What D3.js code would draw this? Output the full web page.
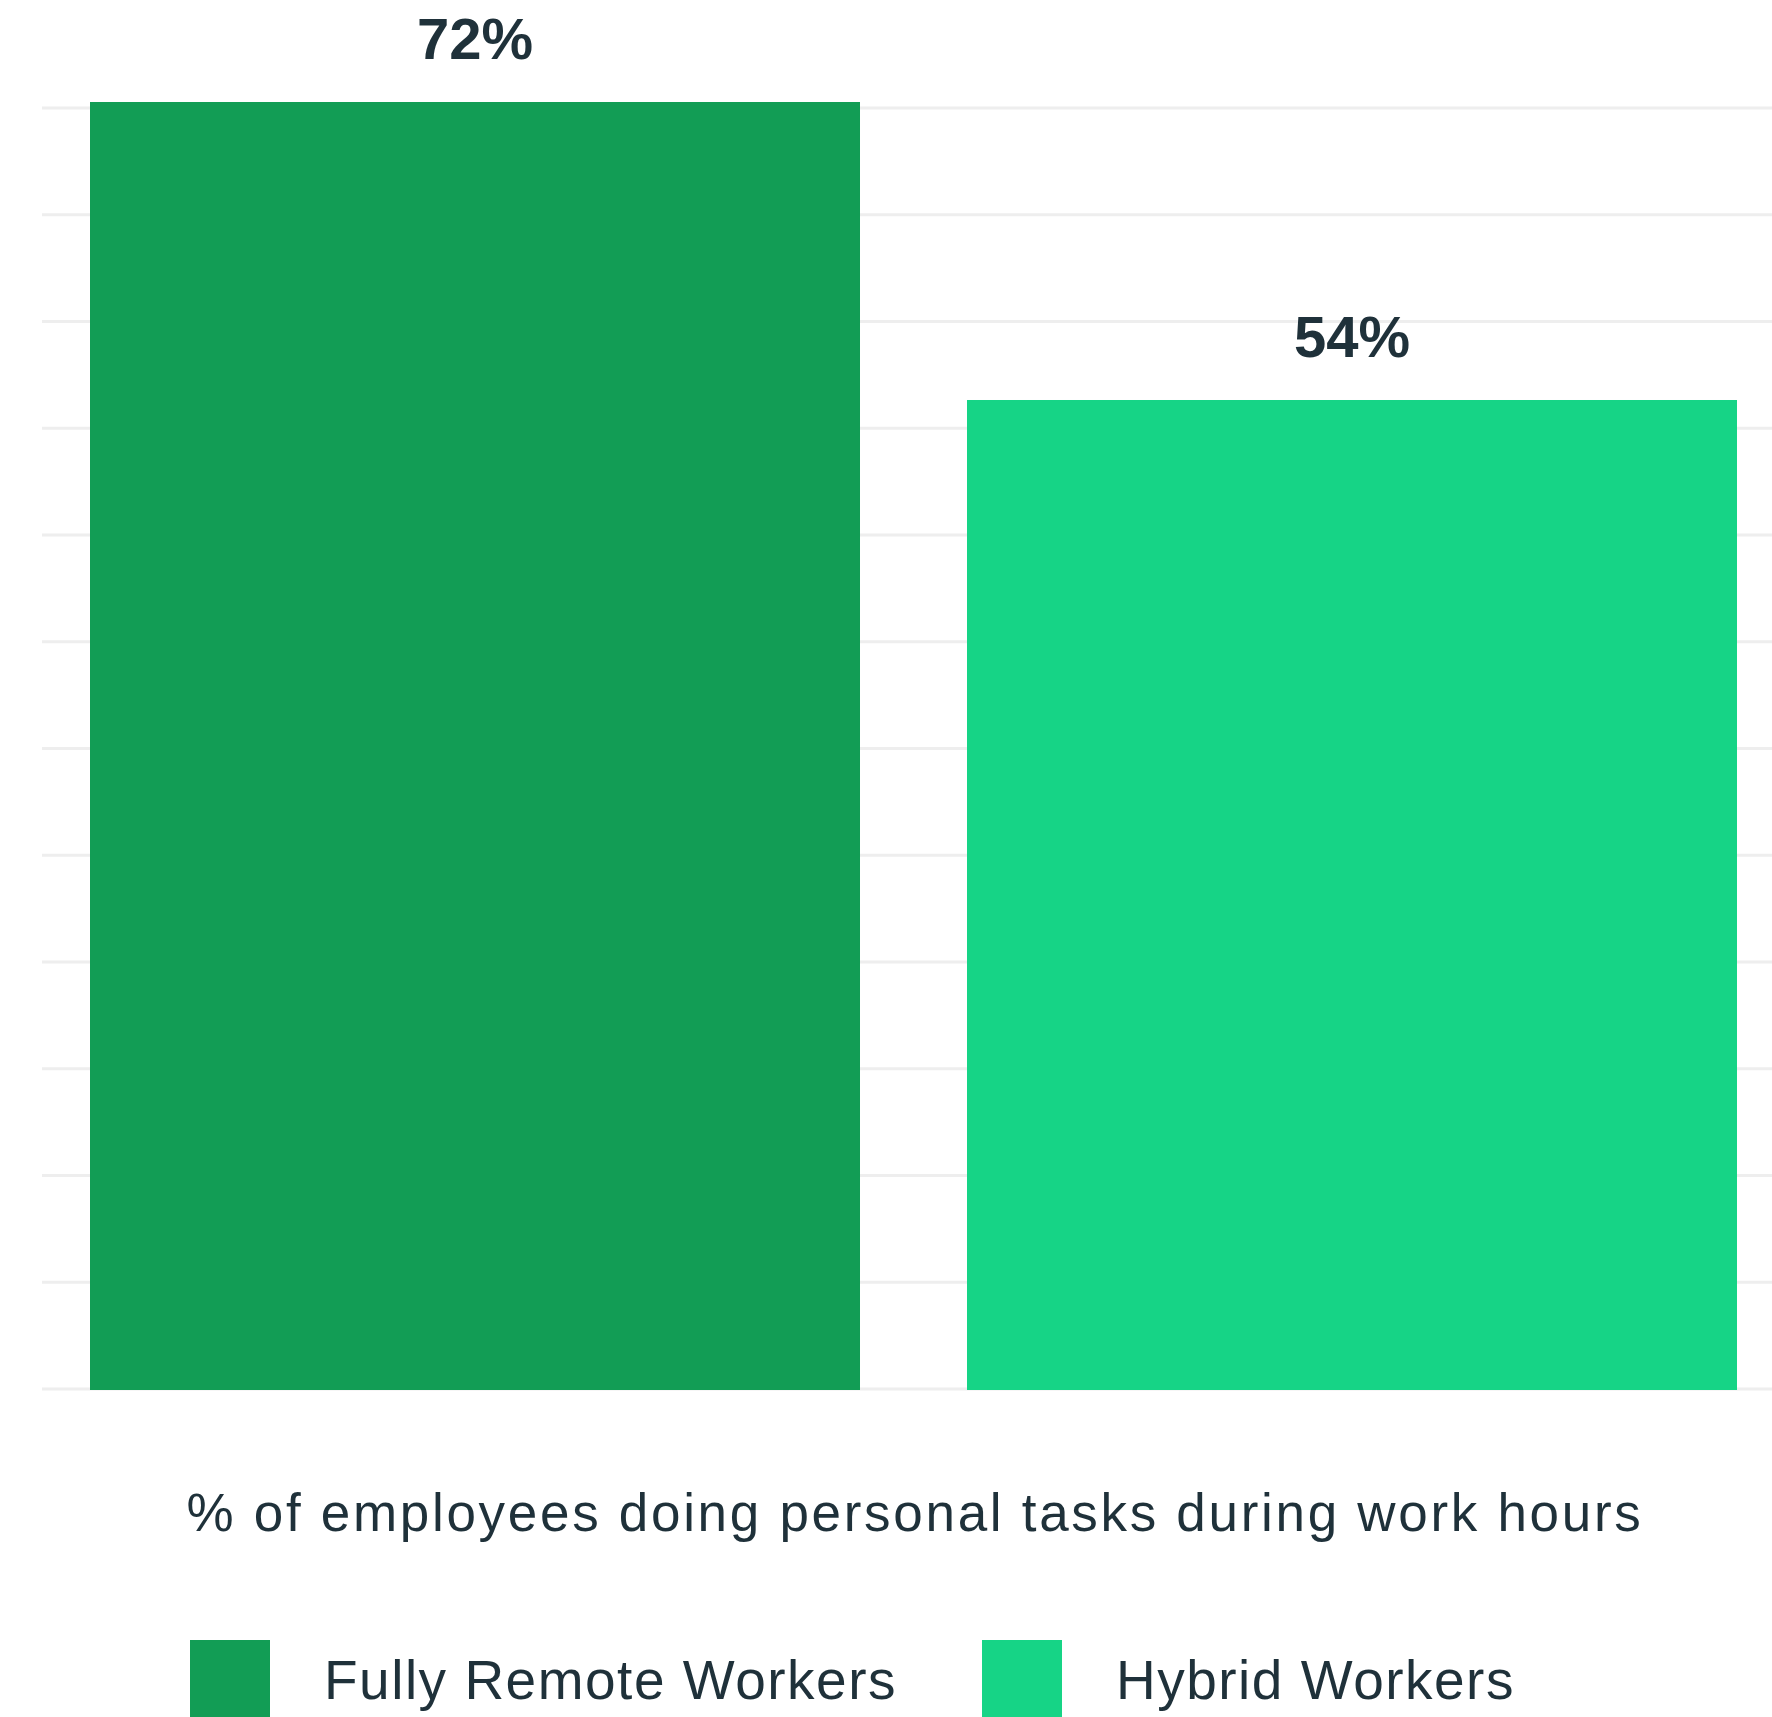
<!DOCTYPE html>
<html>
<head>
<meta charset="utf-8">
<script src="https://cdn.jsdelivr.net/npm/d3@7"></script>
<style>
  body { margin: 0; background: #ffffff; }
  svg { display: block; font-family: "Liberation Sans", Arial, sans-serif; }
</style>
</head>
<body>
<svg id="chart"></svg>
<script>
const width = 1772;
const height = 1717;

// data
const groups = ["Fully Remote Workers", "Hybrid Workers"];
const values = [72, 54];
const labels = ["72%", "54%"];
const colors = ["#129d55", "#16d486"];
const gridSteps = d3.range(13);
const caption = "% of employees doing personal tasks during work hours";

const textColor = "#1f313a";

const svg = d3.select("#chart")
    .attr("width", width)
    .attr("height", height);

const x = d3.scaleBand()
    .domain(groups)
    .range([90, 1737])
    .paddingInner(0.122)
    .paddingOuter(0);

// the bars sit on a baseline a little below zero in the original
const y = d3.scaleLinear()
    .domain([-5.8, 72])
    .range([1390, 102]);

// gridlines are evenly spaced, not tied to the values
const gy = d3.scaleLinear()
    .domain([0, 12])
    .range([1389, 108]);

svg.append("g")
    .selectAll("line")
    .data(gridSteps)
    .join("line")
    .attr("x1", 42)
    .attr("x2", width)
    .attr("y1", d => gy(d))
    .attr("y2", d => gy(d))
    .style("stroke", "#eeeeee")
    .style("stroke-width", 3);

const bars = groups.map((g, i) => ({group: g, value: values[i], label: labels[i], color: colors[i]}));

svg.append("g")
    .selectAll("rect")
    .data(bars)
    .join("rect")
    .attr("x", d => x(d.group))
    .attr("width", x.bandwidth())
    .attr("y", d => y(d.value))
    .attr("height", d => y.range()[0] - y(d.value))
    .attr("fill", d => d.color);

svg.append("g")
    .selectAll("text")
    .data(bars)
    .join("text")
    .attr("x", d => x(d.group) + x.bandwidth() / 2)
    .attr("y", d => y(d.value) - 43)
    .attr("text-anchor", "middle")
    .attr("fill", textColor)
    .style("font-size", "58px")
    .style("font-weight", "bold")
    .text(d => d.label);

svg.append("text")
    .attr("x", 915)
    .attr("y", 1531)
    .attr("text-anchor", "middle")
    .attr("fill", textColor)
    .style("font-size", "53px")
    .style("letter-spacing", "2.7px")
    .text(caption);

// legend
const legendX = [190, 982];
const legend = svg.append("g")
    .selectAll("g")
    .data(bars)
    .join("g")
    .attr("transform", (d, i) => `translate(${legendX[i]},1640)`);

legend.append("rect")
    .attr("width", 80)
    .attr("height", 80)
    .attr("fill", d => d.color);

legend.append("text")
    .attr("x", 134)
    .attr("y", 59)
    .attr("fill", textColor)
    .style("font-size", "55px")
    .style("letter-spacing", "1.5px")
    .text(d => d.group);
</script>
</body>
</html>
